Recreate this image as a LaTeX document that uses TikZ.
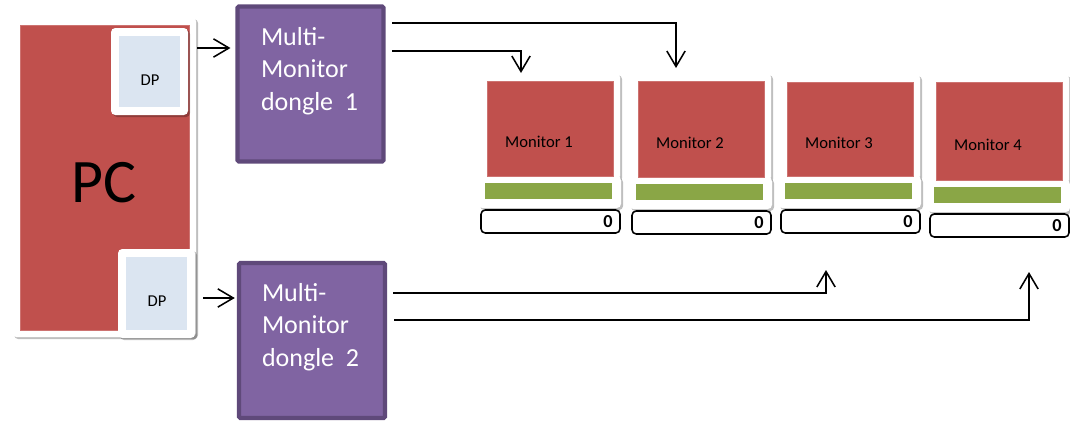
\documentclass[tikz,border=0pt]{standalone}
\usepackage{fontspec}
\setmainfont{Carlito}
\usetikzlibrary{arrows.meta,shadows,calc}
\definecolor{pcred}{HTML}{C0504D}
\definecolor{donglefill}{HTML}{8064A2}
\definecolor{dongleedge}{HTML}{5F497A}
\definecolor{dpblue}{HTML}{DBE5F1}
\definecolor{standgreen}{HTML}{8AA646}
\newlength\pxu
\setlength\pxu{0.025cm}
\tikzset{
  every node/.style={inner sep=0pt, outer sep=0pt},
  frame/.style={fill=white, rounded corners=3pt,
    drop shadow={shadow xshift=1.5pt, shadow yshift=-1.5pt, opacity=.25, fill=black}},
  redbox/.style={fill=pcred, draw=pcred!80!white, line width=.4pt},
  dpbox/.style={fill=dpblue, minimum width=61\pxu},
  dongle/.style={fill=donglefill, draw=dongleedge, line width=3pt, rounded corners=1pt,
    minimum width=146\pxu, minimum height=155\pxu},
  dongletext/.style={text=white, align=left, font=\fontsize{18.5}{23.4}\selectfont},
  smalltext/.style={font=\fontsize{11.8}{14}\selectfont},
  wire/.style={line width=1.1pt, -{Straight Barb[length=11pt, width=13pt, line width=1.1pt]}}
}
\begin{document}
\begin{tikzpicture}[x=0.025cm, y=-0.025cm]
  \useasboundingbox (0,0) rectangle (1070,422);

  % the PC with its two DP ports
  \node[frame, minimum width=184\pxu, minimum height=320\pxu] (pcframe) at (104,177) {};
  \node[redbox, minimum width=169\pxu, minimum height=305\pxu] (pc) at (104.5,177.5) {};
  \node[font=\fontsize{44}{50}\selectfont] (pclabel) at (104,183) {PC};

  \node[frame, minimum width=77\pxu, minimum height=87\pxu] (dpAframe) at (149.5,71.5) {};
  \node[dpbox, minimum height=71\pxu] (dpA) at (149.5,71.5) {};
  \node[smalltext] (dpAlabel) at (150,80) {DP};

  \node[frame, minimum width=77\pxu, minimum height=89\pxu] (dpBframe) at (156.5,293.5) {};
  \node[dpbox, minimum height=73\pxu] (dpB) at (156.5,293.5) {};
  \node[smalltext] (dpBlabel) at (157,301) {DP};

  % dongles
  \node[dongle] (dongleA) at (310.5,84) {};
  \node[dongletext, anchor=north west] (dongleAtext) at (261,27) {Multi-\\Monitor\\dongle~~1};
  \node[dongle] (dongleB) at (312,340.5) {};
  \node[dongletext, anchor=north west] (dongleBtext) at (262,283) {Multi-\\Monitor\\dongle~~2};

  \coordinate (dpAout) at (197,48);
  \coordinate (dpBout) at (203,298);
  \draw[wire, shorten >=5pt] (dpAout) -- (dpAout -| dongleA.west);
  \draw[wire, shorten >=3pt] (dpBout) -- (dpBout -| dongleB.west);

  % monitors: screen, stand and base
  \foreach \i/\mx/\my/\mh in {1/487/81/95, 2/638/81/96, 3/787/82/94, 4/936/82/98} {
    \path[frame] (\mx-7,\my-8) rectangle (\mx+133,\my+\mh+4);
    \path[frame] (\mx-9,\my+\mh) rectangle (\mx+134,\my+\mh+32);
    \node[redbox, minimum width=126\pxu, minimum height=\mh\pxu] (mon\i) at (\mx+63,\my+\mh/2) {};
    \node[smalltext] (mon\i label) at ($(mon\i.center)+(-11,13.5)$) {Monitor \i};
    \fill[standgreen] (\mx-2,\my+\mh+7) rectangle (\mx+125,\my+\mh+23);
    \draw[line width=1.1pt, rounded corners=3pt] (\mx-6,\my+\mh+34) rectangle (\mx+133,\my+\mh+57);
    \node[font=\fontsize{13}{14}\selectfont\bfseries] (base\i) at (\mx+121,\my+\mh+45.5) {0};
  }

  % outputs of the dongles
  \coordinate (dongleAout1) at (392,23);
  \coordinate (dongleAout2) at (392,51);
  \coordinate (dongleBout1) at (393,293);
  \coordinate (dongleBout2) at (394,320);
  \coordinate (mon1in) at (521,73);
  \coordinate (mon2in) at (676,68);
  \coordinate (mon3in) at (826,270);
  \coordinate (mon4in) at (1029,272);
  \draw[wire] (dongleAout1) -| (mon2in);
  \draw[wire] (dongleAout2) -| (mon1in);
  \draw[wire] (dongleBout1) -| (mon3in);
  \draw[wire] (dongleBout2) -| (mon4in);
\end{tikzpicture}
\end{document}
